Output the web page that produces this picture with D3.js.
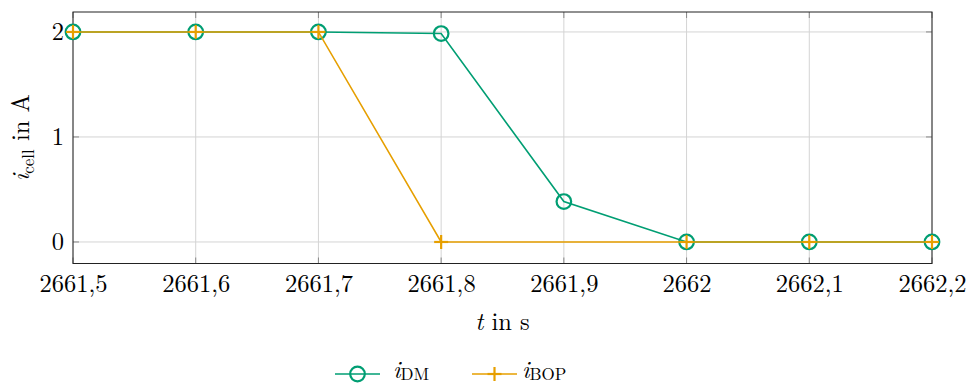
<!DOCTYPE html>
<html>
<head>
<meta charset="utf-8">
<script src="https://cdn.jsdelivr.net/npm/d3@7"></script>
<style>
  html, body { margin: 0; padding: 0; background: #fff; }
  svg { display: block; }
</style>
</head>
<body>
<svg id="chart" width="972" height="386" style="font-family: 'Latin Modern Roman', 'Liberation Serif', serif;"></svg>
<script>
// Cell current of the DM signal (A) over time (s)
const timesDM = [2661.5, 2661.6, 2661.7, 2661.8, 2661.9, 2662.0, 2662.1, 2662.2];
const iDM     = [2.0, 2.0, 2.0, 1.985, 0.385, 0.0, 0.0, 0.0];
// Cell current of the BOP signal (A); no sample at 2661.9 s
const timesBOP = [2661.5, 2661.6, 2661.7, 2661.8, 2662.0, 2662.1, 2662.2];
const iBOP     = [2.0, 2.0, 2.0, 0.0, 0.0, 0.0, 0.0];
const xTicks = [2661.5, 2661.6, 2661.7, 2661.8, 2661.9, 2662.0, 2662.1, 2662.2];
const xTickLabels = ["2661,5", "2661,6", "2661,7", "2661,8", "2661,9", "2662", "2662,1", "2662,2"];
const yTicks = [0, 1, 2];

const FONT = "'Latin Modern Roman', 'Liberation Serif', serif";
const colDM = "#009E73";
const colBOP = "#E69F00";

const svg = d3.select("#chart");
const L = 73, R = 932, T = 12, B = 263.5;

const x = d3.scaleLinear().domain([2661.5, 2662.2]).range([L, R]);
const y = d3.scaleLinear().domain([-0.205, 2.19]).range([B, T]);

// grid
const grid = svg.append("g");
grid.selectAll(".gx").data(xTicks).join("line")
  .attr("x1", d => x(d)).attr("x2", d => x(d))
  .attr("y1", T).attr("y2", B)
  .attr("stroke", "#d4d4d4").attr("stroke-width", 1);
grid.selectAll(".gy").data(yTicks).join("line")
  .attr("x1", L).attr("x2", R)
  .attr("y1", d => y(d)).attr("y2", d => y(d))
  .attr("stroke", "#d4d4d4").attr("stroke-width", 1);

// inner tick marks
const tk = svg.append("g").attr("stroke", "#888").attr("stroke-width", 1);
xTicks.forEach(t => {
  tk.append("line").attr("x1", x(t)).attr("x2", x(t)).attr("y1", B).attr("y2", B - 6);
  tk.append("line").attr("x1", x(t)).attr("x2", x(t)).attr("y1", T).attr("y2", T + 6);
});
yTicks.forEach(t => {
  tk.append("line").attr("x1", L).attr("x2", L + 6).attr("y1", y(t)).attr("y2", y(t));
  tk.append("line").attr("x1", R).attr("x2", R - 6).attr("y1", y(t)).attr("y2", y(t));
});

// frame
svg.append("rect").attr("x", L).attr("y", T).attr("width", R - L).attr("height", B - T)
  .attr("fill", "none").attr("stroke", "#222").attr("stroke-width", 1);

// axis tick labels
const xAxis = d3.axisBottom(x).tickValues(xTicks)
  .tickFormat((d, i) => xTickLabels[i]).tickSize(0).tickPadding(0);
const gx = svg.append("g").attr("transform", `translate(0,${B})`).call(xAxis)
  .attr("font-family", null).attr("font-size", null);
gx.select(".domain").remove();
gx.selectAll("text").attr("dy", 0).attr("y", 28)
  .style("font-family", FONT).style("font-size", "24.5px").attr("fill", "#000");

const yAxis = d3.axisLeft(y).tickValues(yTicks).tickFormat(d3.format("d")).tickSize(0).tickPadding(0);
const gy = svg.append("g").attr("transform", `translate(${L - 9},0)`).call(yAxis)
  .attr("font-family", null).attr("font-size", null);
gy.select(".domain").remove();
gy.selectAll("text").attr("dy", "0.32em").attr("x", 0)
  .style("font-family", FONT).style("font-size", "24.5px").attr("fill", "#000");

// axis titles
const yt = svg.append("text").attr("transform", `translate(29,${(T + B) / 2}) rotate(-90)`)
  .attr("text-anchor", "middle").style("font-family", FONT).style("font-size", "24.5px");
yt.append("tspan").attr("font-style", "italic").text("i");
yt.append("tspan").style("font-size", "17px").attr("dy", 5).text("cell");
yt.append("tspan").attr("dy", -5).text(" in A");

const xt = svg.append("text").attr("x", (L + R) / 2).attr("y", 330)
  .attr("text-anchor", "middle").style("font-family", FONT).style("font-size", "24.5px");
xt.append("tspan").attr("font-style", "italic").text("t");
xt.append("tspan").text(" in s");

// series
const line = d3.line().x(d => x(d[0])).y(d => y(d[1]));
const dmPts = timesDM.map((t, i) => [t, iDM[i]]);
const bopPts = timesBOP.map((t, i) => [t, iBOP[i]]);

svg.append("path").datum(dmPts).attr("d", line)
  .attr("fill", "none").attr("stroke", colDM).attr("stroke-width", 1.6);
svg.append("g").selectAll("circle").data(dmPts).join("circle")
  .attr("cx", d => x(d[0])).attr("cy", d => y(d[1])).attr("r", 7.3)
  .attr("fill", "none").attr("stroke", colDM).attr("stroke-width", 2.2);

svg.append("path").datum(bopPts).attr("d", line)
  .attr("fill", "none").attr("stroke", colBOP).attr("stroke-width", 1.6);
const pg = svg.append("g").attr("stroke", colBOP).attr("stroke-width", 2.2);
bopPts.forEach(d => {
  pg.append("line").attr("x1", x(d[0]) - 7).attr("x2", x(d[0]) + 7)
    .attr("y1", y(d[1])).attr("y2", y(d[1]));
  pg.append("line").attr("x1", x(d[0])).attr("x2", x(d[0]))
    .attr("y1", y(d[1]) - 7).attr("y2", y(d[1]) + 7);
});

// legend
const lg = svg.append("g");
const ly = 374;
lg.append("line").attr("x1", 335).attr("x2", 380).attr("y1", ly).attr("y2", ly)
  .attr("stroke", colDM).attr("stroke-width", 1.6);
lg.append("circle").attr("cx", 357.5).attr("cy", ly).attr("r", 7.3)
  .attr("fill", "none").attr("stroke", colDM).attr("stroke-width", 2.2);
const t1 = lg.append("text").attr("x", 393).attr("y", ly + 4)
  .style("font-family", FONT).style("font-size", "24.5px");
t1.append("tspan").attr("font-style", "italic").text("i");
t1.append("tspan").style("font-size", "17px").attr("dy", 2).text("DM");

lg.append("line").attr("x1", 472).attr("x2", 517).attr("y1", ly).attr("y2", ly)
  .attr("stroke", colBOP).attr("stroke-width", 1.6);
lg.append("line").attr("x1", 487.5).attr("x2", 501.5).attr("y1", ly).attr("y2", ly)
  .attr("stroke", colBOP).attr("stroke-width", 2.2);
lg.append("line").attr("x1", 494.5).attr("x2", 494.5).attr("y1", ly - 7).attr("y2", ly + 7)
  .attr("stroke", colBOP).attr("stroke-width", 2.2);
const t2 = lg.append("text").attr("x", 522).attr("y", ly + 4)
  .style("font-family", FONT).style("font-size", "24.5px");
t2.append("tspan").attr("font-style", "italic").text("i");
t2.append("tspan").style("font-size", "17px").attr("dy", 2).text("BOP");
</script>
</body>
</html>
